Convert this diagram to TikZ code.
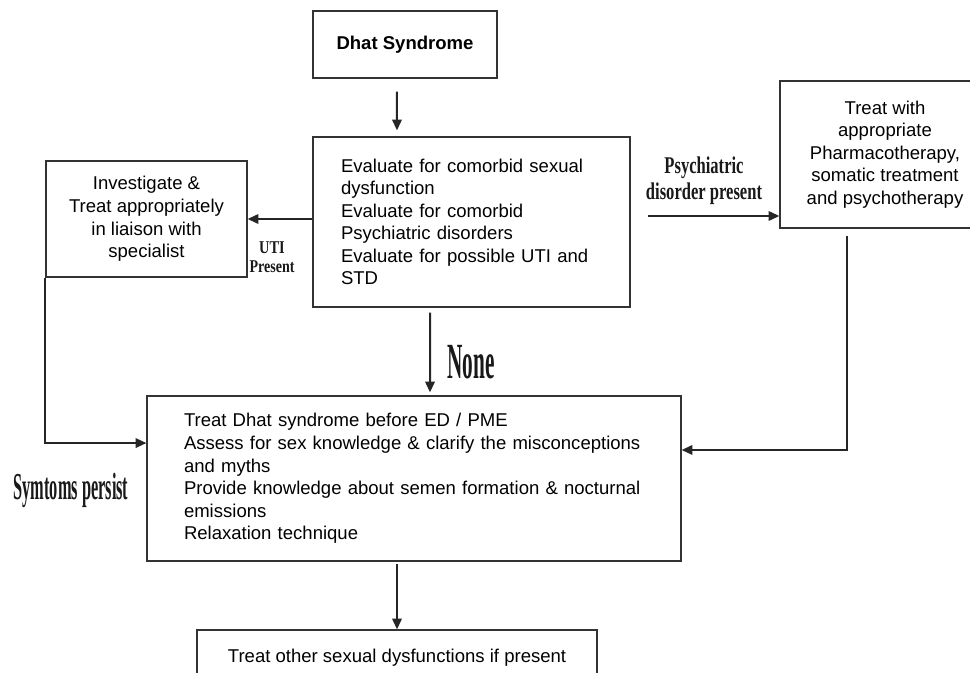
\documentclass[tikz,border=0pt]{standalone}
\usepackage{fontspec}
\setmainfont{Liberation Sans}
\newfontfamily\labelfont{Liberation Serif}
\usetikzlibrary{arrows.meta}
\newcommand{\squeezed}[2]{\scalebox{#1}[1]{#2}}

\begin{document}
\begin{tikzpicture}[x=0.75pt, y=-0.75pt]
    \tikzset{
        box/.style={draw=black!80, line width=0.9pt, inner sep=0pt, font=\fontsize{13.9}{16.9}\selectfont},
        arrow/.style={-{Triangle[length=8pt,width=7pt]}, line width=1.5pt, black!85},
        cond/.style={inner sep=0pt, align=center, text=black!90}
    }
    \useasboundingbox (0,0) rectangle (970,672);
    \clip (0,0) rectangle (970,672);

    \node[box, minimum width=138pt, minimum height=50.25pt] (dhat) at (405,44.5) {\textbf{Dhat Syndrome}};
    \node[box, minimum width=237.75pt, minimum height=127.5pt, text width=195.75pt, align=left] (eval) at (471.5,222)
        {Evaluate for comorbid sexual\\dysfunction\\Evaluate for comorbid\\Psychiatric disorders\\Evaluate for possible UTI and\\STD};
    \node[box, minimum width=150.75pt, minimum height=87pt, align=center] (invest) at (146.5,219)
        {Investigate \&\\Treat appropriately\\in liaison with\\specialist};
    \node[box, minimum width=157.5pt, minimum height=110.25pt, align=center] (treat) at (885,154.5)
        {Treat with\\appropriate\\Pharmacotherapy,\\somatic treatment\\and psychotherapy};
    \node[box, minimum width=400.5pt, minimum height=123.75pt, text width=345pt, align=left] (main) at (414,478.5)
        {Treat Dhat syndrome before ED / PME\\Assess for sex knowledge \& clarify the misconceptions\\and myths\\Provide knowledge about semen formation \& nocturnal\\emissions\\Relaxation technique};
    \node[box, minimum width=300pt, minimum height=42pt] (other) at (397,658) {Treat other sexual dysfunctions if present};

    \node[cond, font=\labelfont\bfseries\fontsize{18}{19.5}\selectfont] (psylabel) at (704,181)
        {\squeezed{0.69}{Psychiatric}\\\squeezed{0.69}{disorder present}};
    \node[cond, font=\labelfont\bfseries\fontsize{13.5}{14.25}\selectfont] (utilabel) at (272,257.5)
        {\squeezed{0.8}{UTI}\\\squeezed{0.78}{Present}};
    \node[cond, font=\labelfont\bfseries\fontsize{38}{40}\selectfont] (nonelabel) at (471,362) {\squeezed{0.42}{None}};
    \node[cond, font=\labelfont\bfseries\fontsize{28.5}{30}\selectfont] (persistlabel) at (71,490) {\squeezed{0.43}{Symtoms persist}};

    \coordinate (psyfrom) at ([yshift=4.5pt]eval.east);
    \coordinate (treatout) at ([xshift=-28.5pt]treat.south);

    \draw[arrow, shorten <=9.75pt, shorten >=4.5pt] ([xshift=-6pt]dhat.south) -- ([xshift=-55.9pt]eval.north);
    \draw[arrow] (eval.west |- invest.east) -- (invest.east);
    \draw[arrow, shorten <=12.75pt] (psyfrom) -- (psyfrom -| treat.west);
    \draw[arrow, shorten <=3.75pt, shorten >=2.25pt] ([xshift=-31.1pt]eval.south) -- ([xshift=12pt]main.north);
    \draw[arrow] (invest.south west) |- ([yshift=26.6pt]main.west);
    \draw[arrow, shorten <=5.25pt] (treatout) |- ([yshift=21.4pt]main.east);
    \draw[arrow, shorten <=1.5pt] ([xshift=-12.75pt]main.south) -- (other.north);
\end{tikzpicture}
\end{document}
